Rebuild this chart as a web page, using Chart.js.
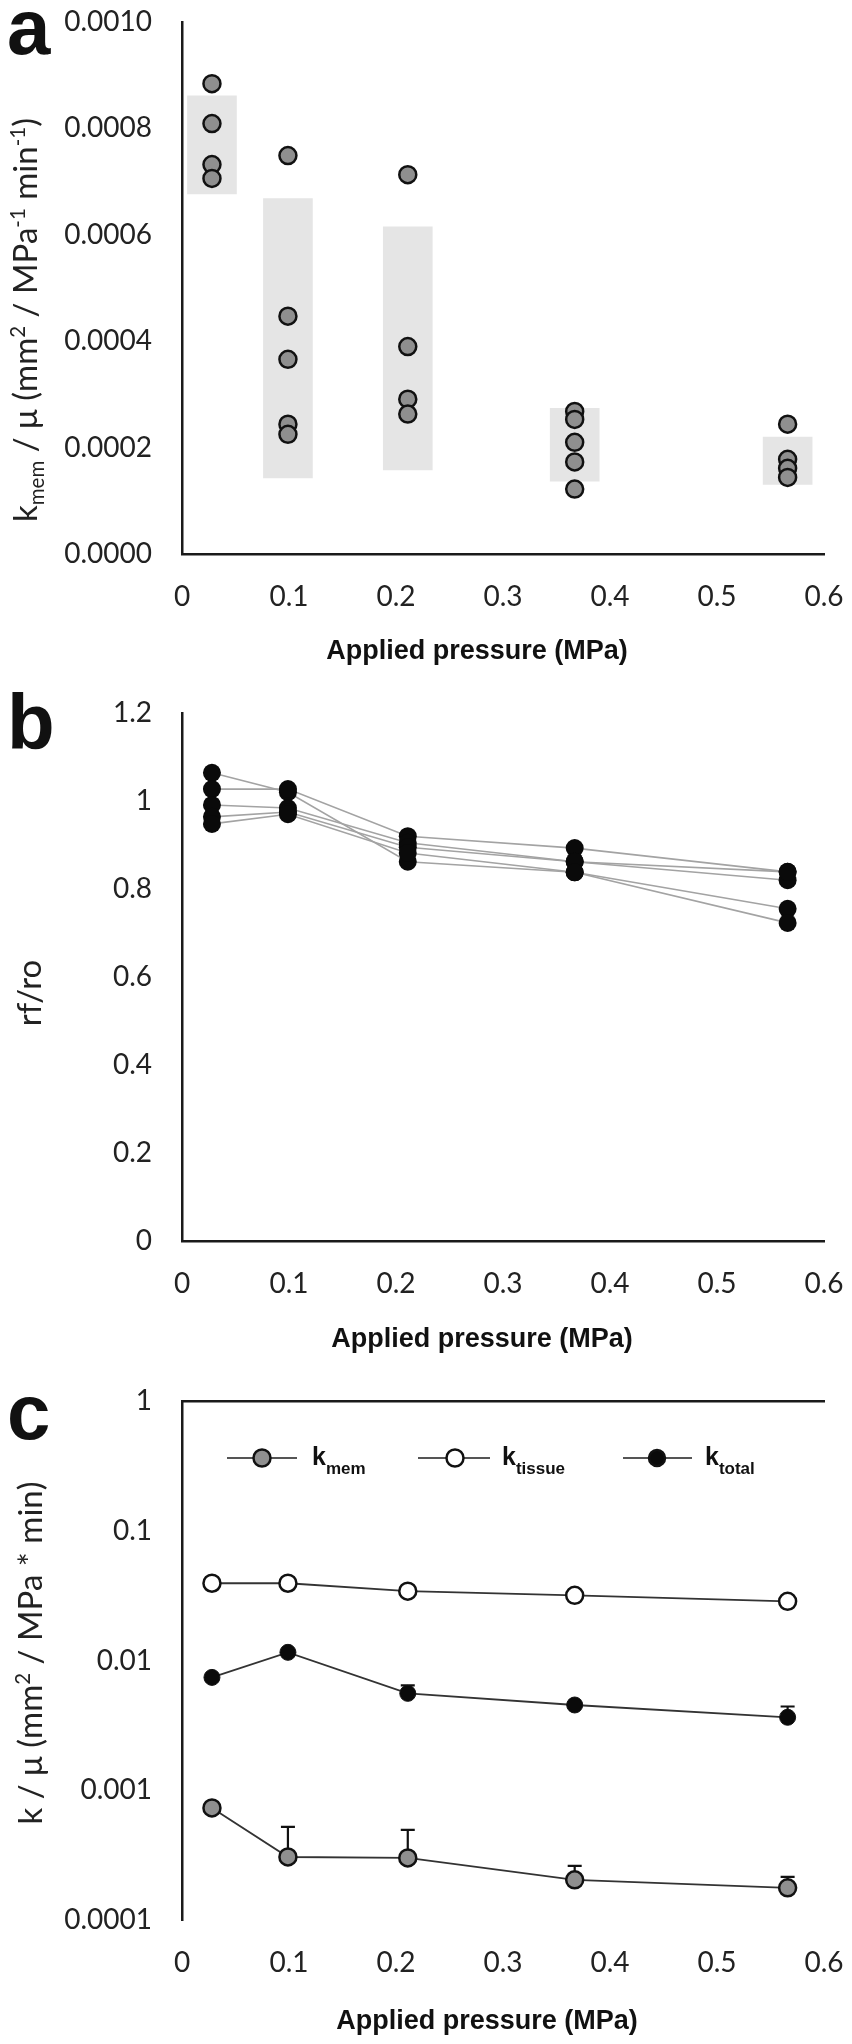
<!DOCTYPE html>
<html>
<head>
<meta charset="utf-8">
<script src="https://cdn.jsdelivr.net/npm/chart.js@4.4.1/dist/chart.umd.min.js"></script>
<style>
  body { margin: 0; background: #fff; }
  #page { position: relative; width: 852px; height: 2044px; overflow: hidden; }
  canvas { position: absolute; left: 0; }
  .lbl { position: absolute; white-space: nowrap; line-height: 1; color: #111; }
  .panel { font: bold 78px 'Liberation Sans', Arial, sans-serif; }
  .xt { font: bold 27px 'Liberation Sans', Arial, sans-serif; transform: translate(-50%, -50%); }
  .yt { font: 33px Lato, sans-serif; color: #222; transform: translate(-50%, -50%) rotate(-90deg); }
  .yt sub, .yt sup { font-size: 0.62em; }
  .leg { font: bold 25px 'Liberation Sans', Arial, sans-serif; }
  .leg sub { font-size: 17px; vertical-align: -9px; }
</style>
</head>
<body>
<div id="page">
  <canvas id="chartA" width="852" height="680" style="top:0"></canvas>
  <canvas id="chartB" width="852" height="680" style="top:680px"></canvas>
  <canvas id="chartC" width="852" height="684" style="top:1360px"></canvas>

  <div class="lbl panel" style="left:7px;top:-18px">a</div>
  <div class="lbl panel" style="left:7px;top:677px">b</div>
  <div class="lbl panel" style="left:7px;top:1367px">c</div>

  <div class="lbl yt" style="left:26px;top:320px">k<sub>mem</sub> / μ (mm<sup>2</sup> / MPa<sup>-1</sup> min<sup>-1</sup>)</div>
  <div class="lbl yt" style="left:28px;top:993px">rf/ro</div>
  <div class="lbl yt" style="left:29px;top:1653px">k / μ (mm<sup>2</sup> / MPa * min)</div>

  <div class="lbl xt" style="left:477px;top:650px">Applied pressure (MPa)</div>
  <div class="lbl xt" style="left:482px;top:1338px">Applied pressure (MPa)</div>
  <div class="lbl xt" style="left:487px;top:2020px">Applied pressure (MPa)</div>

  <svg id="legendMarks" width="852" height="40" style="position:absolute;left:0;top:1438px"></svg>
  <div class="lbl leg" style="left:312px;top:1442px">k<sub>mem</sub></div>
  <div class="lbl leg" style="left:502px;top:1442px">k<sub>tissue</sub></div>
  <div class="lbl leg" style="left:705px;top:1442px">k<sub>total</sub></div>
</div>

<script>
// ── data ────────────────────────────────────────────────────────────
const pressure = [0.028, 0.099, 0.211, 0.367, 0.566];
const xTicks = [0, 0.1, 0.2, 0.3, 0.4, 0.5, 0.6];

// panel a: individual k_mem/μ values at each pressure, and grey bands
const kmemPoints = [
    [0.000884, 0.000809, 0.000732, 0.000706],
    [0.000749, 0.000447, 0.000366, 0.000244, 0.000225],
    [0.000713, 0.000390, 0.000291, 0.000263],
    [0.000268, 0.000253, 0.000210, 0.000173, 0.000122],
    [0.000244, 0.000178, 0.000161, 0.000144],
];
const kmemBandLow = [0.000677, 0.000143, 0.000158, 0.000137, 0.000131];
const kmemBandHigh = [0.000861, 0.000668, 0.000615, 0.000274, 0.000220];
const yTicksA = [0, 0.0002, 0.0004, 0.0006, 0.0008, 0.0010];

// panel b: rf/ro per sample
const rfro1 = [1.064, 1.020, 0.862, 0.838, 0.755];
const rfro2 = [1.027, 1.027, 0.920, 0.893, 0.839];
const rfro3 = [0.991, 0.984, 0.905, 0.862, 0.820];
const rfro4 = [0.964, 0.975, 0.895, 0.862, 0.839];
const rfro5 = [0.948, 0.970, 0.882, 0.838, 0.723];
const yTicksB = [0, 0.2, 0.4, 0.6, 0.8, 1, 1.2];

// panel c: means and upper error values
const kmemMean = [0.000731, 0.000306, 0.000301, 0.000204, 0.000177];
const kmemUpper = [null, 0.000522, 0.000495, 0.000261, 0.000215];
const ktissueMean = [0.0394, 0.0394, 0.0342, 0.0318, 0.0286];
const ktotalMean = [0.00741, 0.01156, 0.00558, 0.00454, 0.00365];
const ktotalUpper = [null, null, 0.00644, null, 0.00442];
const yTicksC = [0.0001, 0.001, 0.01, 0.1, 1];
const yTickLabelsC = ['0.0001', '0.001', '0.01', '0.1', '1'];

// ── shared styling ──────────────────────────────────────────────────
const tickFont = { family: 'Lato', size: 28 };
const tickColor = '#222';
const axisColor = '#1a1a1a';
const greyFill = '#8f8f8f';

const baseOptions = {
    responsive: false,
    animation: false,
    events: [],
    plugins: { legend: { display: false }, tooltip: { enabled: false } },
};

// fixed axis sizes so every plot area lines up with the figure
function xAxis(height) {
    return {
        type: 'linear', min: 0, max: 0.6, offset: false,
        grid: { display: false, drawTicks: false },
        border: { display: true, color: axisColor, width: 2.5 },
        ticks: { font: tickFont, color: tickColor, padding: 26, callback: (v) => String(v) },
        afterBuildTicks: (s) => { s.ticks = xTicks.map((v) => ({ value: v })); },
        afterFit: (s) => { s.height = height; s.paddingLeft = 0; s.paddingRight = 0; },
    };
}

function yAxis(ticks, fmt, extra) {
    return Object.assign({
        grid: { display: false, drawTicks: false },
        border: { display: true, color: axisColor, width: 2.5 },
        ticks: { font: tickFont, color: tickColor, padding: 30, callback: fmt },
        afterBuildTicks: (s) => { s.ticks = ticks.map((v) => ({ value: v })); },
        afterFit: (s) => { s.width = 182; s.paddingTop = 0; s.paddingBottom = 0; },
    }, extra);
}

// ── panel a ─────────────────────────────────────────────────────────
const scatterA = [];
kmemPoints.forEach((grp, i) => grp.forEach((v) => scatterA.push({ x: pressure[i], y: v })));

new Chart(document.getElementById('chartA'), {
    type: 'bar',
    data: {
        datasets: [
            {
                type: 'scatter',
                data: scatterA,
                pointRadius: 8.5,
                pointBackgroundColor: greyFill,
                pointBorderColor: '#111',
                pointBorderWidth: 2.5,
                order: 0,
            },
            {
                type: 'bar',
                data: pressure.map((p, i) => ({ x: p, y: [kmemBandLow[i], kmemBandHigh[i]] })),
                backgroundColor: '#e5e5e5',
                barThickness: 49,
                order: 1,
            },
        ],
    },
    options: Object.assign({}, baseOptions, {
        layout: { padding: { left: 0, right: 28, top: 22, bottom: 0 } },
        scales: {
            x: xAxis(126),
            y: yAxis(yTicksA, (v) => v.toFixed(4), { min: 0, max: 0.001 }),
        },
    }),
});

// ── panel b ─────────────────────────────────────────────────────────
const rfroSeries = [rfro1, rfro2, rfro3, rfro4, rfro5];
const scatterB = [];
rfroSeries.forEach((s) => s.forEach((v, i) => scatterB.push({ x: pressure[i], y: v })));

new Chart(document.getElementById('chartB'), {
    type: 'line',
    data: {
        datasets: [
            {
                type: 'scatter',
                data: scatterB,
                pointRadius: 9,
                pointBackgroundColor: '#0a0a0a',
                pointBorderWidth: 0,
                order: 0,
            },
        ].concat(rfroSeries.map((s) => ({
            data: s.map((v, i) => ({ x: pressure[i], y: v })),
            borderColor: '#a3a3a3',
            borderWidth: 1.6,
            pointRadius: 0,
            tension: 0,
            order: 1,
        }))),
    },
    options: Object.assign({}, baseOptions, {
        layout: { padding: { left: 0, right: 28, top: 33, bottom: 0 } },
        scales: {
            x: xAxis(119),
            y: yAxis(yTicksB, (v) => String(v), { min: 0, max: 1.2 }),
        },
    }),
});

// ── panel c ─────────────────────────────────────────────────────────
const errorBars = {
    id: 'errorBars',
    beforeDatasetsDraw(chart) {
        const { ctx, scales: { x, y } } = chart;
        ctx.save();
        ctx.strokeStyle = '#111';
        ctx.lineWidth = 2.2;
        [[kmemMean, kmemUpper], [ktotalMean, ktotalUpper]].forEach(([mean, upper]) => {
            upper.forEach((u, i) => {
                if (u == null) return;
                const px = x.getPixelForValue(pressure[i]);
                const y0 = y.getPixelForValue(mean[i]);
                const y1 = y.getPixelForValue(u);
                ctx.beginPath();
                ctx.moveTo(px, y0);
                ctx.lineTo(px, y1);
                ctx.moveTo(px - 7, y1);
                ctx.lineTo(px + 7, y1);
                ctx.stroke();
            });
        });
        ctx.restore();
    },
};

const toXY = (arr) => arr.map((v, i) => ({ x: pressure[i], y: v }));
const lineC = { borderColor: '#333', borderWidth: 1.8, tension: 0, pointBorderColor: '#111' };

new Chart(document.getElementById('chartC'), {
    type: 'line',
    data: {
        datasets: [
            Object.assign({ data: toXY(kmemMean), pointRadius: 8.5, pointBackgroundColor: greyFill, pointBorderWidth: 2.5 }, lineC),
            Object.assign({ data: toXY(ktissueMean), pointRadius: 8.5, pointBackgroundColor: '#fff', pointBorderWidth: 2.5 }, lineC),
            Object.assign({ data: toXY(ktotalMean), pointRadius: 8, pointBackgroundColor: '#0a0a0a', pointBorderWidth: 1 }, lineC),
        ],
    },
    options: Object.assign({}, baseOptions, {
        layout: { padding: { left: 0, right: 28, top: 41, bottom: 0 } },
        scales: {
            x: Object.assign(xAxis(124), { border: { display: false } }),
            x2: {
                type: 'linear', position: 'top', min: 0, max: 0.6,
                grid: { display: false, drawTicks: false },
                border: { display: true, color: axisColor, width: 2.5 },
                ticks: { display: false },
                afterFit: (s) => { s.height = 0; s.paddingLeft = 0; s.paddingRight = 0; },
            },
            y: yAxis(yTicksC, (v, i) => yTickLabelsC[i], { type: 'logarithmic', min: 0.0001, max: 1 }),
        },
    }),
    plugins: [errorBars],
});

// ── panel c legend markers ──────────────────────────────────────────
const legendMarks = [
    { x1: 227, x2: 297, cx: 262, fill: greyFill, r: 8.5 },
    { x1: 418, x2: 490, cx: 455, fill: '#fff', r: 8.5 },
    { x1: 623, x2: 692, cx: 657, fill: '#0a0a0a', r: 8 },
];
const svg = document.getElementById('legendMarks');
svg.innerHTML = legendMarks.map((m) =>
    `<line x1="${m.x1}" y1="20" x2="${m.x2}" y2="20" stroke="#555" stroke-width="2"/>` +
    `<circle cx="${m.cx}" cy="20" r="${m.r}" fill="${m.fill}" stroke="#111" stroke-width="2.5"/>`
).join('');
</script>
</body>
</html>
